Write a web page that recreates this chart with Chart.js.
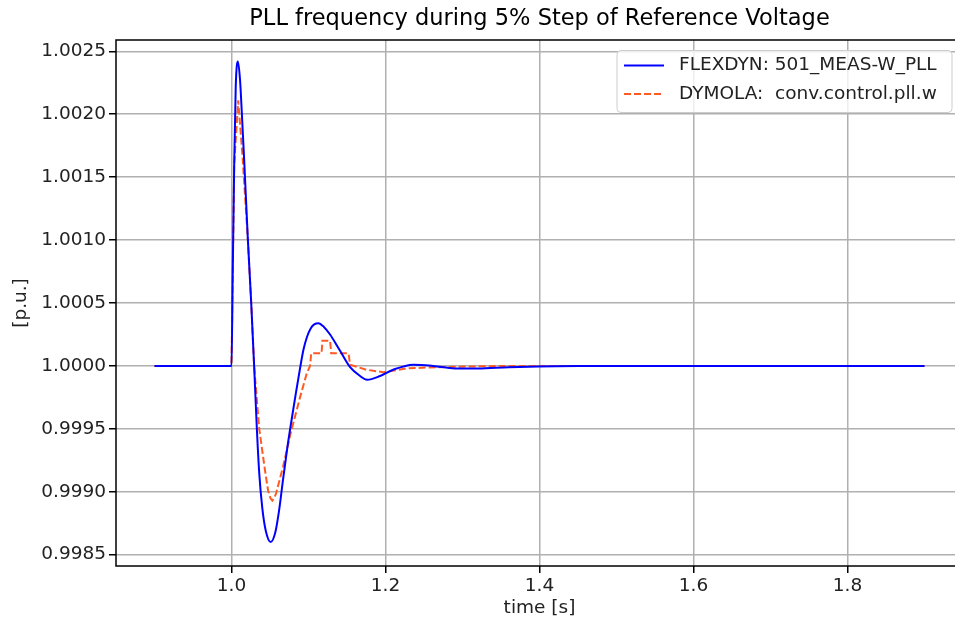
<!DOCTYPE html>
<html>
<head>
<meta charset="utf-8">
<script src="https://cdn.jsdelivr.net/npm/chart.js@4.4.0/dist/chart.umd.min.js"></script>
<style>
  html, body { margin: 0; padding: 0; background: #fff; overflow: hidden; }
  #wrap { width: 955px; height: 625px; overflow: hidden; }
</style>
</head>
<body>
<div id="wrap"><canvas id="pllChart" width="980" height="625"></canvas></div>
<script>
// FLEXDYN: 501_MEAS-W_PLL
var flexTime = [0.9, 1.0, 1.0015, 1.0035, 1.0055, 1.0083, 1.011, 1.0135, 1.0165, 1.0213,
  1.0256, 1.0294, 1.0327, 1.036, 1.04, 1.0445, 1.0509, 1.057, 1.062, 1.067,
  1.0725, 1.078, 1.0835, 1.089, 1.0935, 1.098, 1.103, 1.1075, 1.1128, 1.12,
  1.128, 1.141, 1.154, 1.167, 1.176, 1.193, 1.21, 1.236, 1.262, 1.29,
  1.32, 1.36, 1.45, 1.9];
var flexValue = [1.0, 1.0, 1.0007, 1.0016, 1.00222, 1.00242, 1.00228, 1.002, 1.00163, 1.001,
  1.0005, 1.0, 0.99953, 0.99915, 0.99887, 0.99869, 0.9986, 0.99868, 0.99886, 0.9991,
  0.99935, 0.99957, 0.99978, 0.99998, 1.00013, 1.00023, 1.0003, 1.00033, 1.00034, 1.00031,
  1.00025, 1.00012, 0.99999, 0.99992, 0.99989, 0.99992, 0.99997, 1.00001, 1.0, 0.99998,
  0.99998, 0.99999, 1.0, 1.0];

// DYMOLA: conv.control.pll.w
var dymTime = [0.9, 1.0, 1.0035, 1.0087, 1.0145, 1.0213, 1.0256, 1.0294, 1.036, 1.0435,
  1.0475, 1.0505, 1.053, 1.0556, 1.058, 1.067, 1.077, 1.089, 1.0977, 1.102,
  1.1035, 1.117, 1.118, 1.128, 1.1295, 1.152, 1.154, 1.175, 1.197, 1.227,
  1.266, 1.35, 1.9];
var dymValue = [1.0, 1.0, 1.0016, 1.00211, 1.00165, 1.001, 1.0005, 1.0, 0.9995, 0.99917,
  0.99901, 0.99895, 0.99893, 0.99895, 0.99899, 0.9992, 0.99947, 0.99975, 0.99994, 1.0,
  1.0001, 1.0001, 1.0002, 1.0002, 1.0001, 1.0001, 1.00001, 0.99997, 0.99995, 0.99998,
  0.99999, 1.0, 1.0];

var xTicks = [1.0, 1.2, 1.4, 1.6, 1.8];
var yTicks = [0.9985, 0.999, 0.9995, 1.0, 1.0005, 1.001, 1.0015, 1.002, 1.0025];

function toPoints(ts, vs) {
  return ts.map(function (t, i) { return { x: t, y: vs[i] }; });
}

var FONT = "'DejaVu Sans', sans-serif";

// matplotlib-like frame around the axes
var frame = {
  id: "frame",
  afterDatasetsDraw: function (chart) {
    var a = chart.chartArea, ctx = chart.ctx;
    ctx.save();
    ctx.strokeStyle = "#000";
    ctx.lineWidth = 1.5;
    ctx.strokeRect(a.left, a.top, a.right - a.left, a.bottom - a.top);
    ctx.restore();
  }
};

// legend box in the upper right corner
var legendBox = {
  id: "legendBox",
  afterDraw: function (chart) {
    var ctx = chart.ctx, a = chart.chartArea;
    var w = 335, h = 62, r = 4;
    var x0 = a.right - 11 - w, y0 = a.top + 10.5;
    ctx.save();
    ctx.beginPath();
    ctx.moveTo(x0 + r, y0);
    ctx.arcTo(x0 + w, y0, x0 + w, y0 + h, r);
    ctx.arcTo(x0 + w, y0 + h, x0, y0 + h, r);
    ctx.arcTo(x0, y0 + h, x0, y0, r);
    ctx.arcTo(x0, y0, x0 + w, y0, r);
    ctx.closePath();
    ctx.fillStyle = "rgba(255,255,255,0.8)";
    ctx.fill();
    ctx.strokeStyle = "#cccccc";
    ctx.lineWidth = 1;
    ctx.stroke();
    chart.data.datasets.forEach(function (ds, i) {
      var y = y0 + 15 + i * 28.5;
      ctx.beginPath();
      ctx.setLineDash(ds.borderDash || []);
      ctx.strokeStyle = ds.borderColor;
      ctx.lineWidth = ds.borderWidth;
      ctx.moveTo(x0 + 7, y);
      ctx.lineTo(x0 + 47, y);
      ctx.stroke();
      ctx.setLineDash([]);
      ctx.fillStyle = "#222";
      ctx.font = "18.5px " + FONT;
      ctx.textBaseline = "middle";
      ctx.fillText(ds.label, x0 + 62, y);
    });
    ctx.restore();
  }
};

var ctx = document.getElementById("pllChart").getContext("2d");
var pllChart = new Chart(ctx, {
  type: "line",
  data: {
    datasets: [{
      label: "FLEXDYN: 501_MEAS-W_PLL",
      data: toPoints(flexTime, flexValue),
      borderColor: "#0000ff",
      borderWidth: 2,
      pointRadius: 0,
      fill: false,
      cubicInterpolationMode: "monotone"
    }, {
      label: "DYMOLA:  conv.control.pll.w",
      data: toPoints(dymTime, dymValue),
      borderColor: "#ff5a22",
      borderWidth: 2,
      borderDash: [7, 3],
      pointRadius: 0,
      fill: false,
      tension: 0
    }]
  },
  options: {
    responsive: false,
    animation: false,
    devicePixelRatio: 1,
    layout: { padding: { left: 0, right: 17, top: 0, bottom: 0 } },
    plugins: {
      legend: { display: false },
      tooltip: { enabled: false },
      title: {
        display: true,
        fullSize: false,
        text: "PLL frequency during 5% Step of Reference Voltage",
        color: "#000",
        font: { family: FONT, size: 22.5, weight: "normal" },
        padding: { top: 6, bottom: 7 }
      }
    },
    scales: {
      x: {
        type: "linear",
        min: 0.85,
        max: 1.95,
        afterBuildTicks: function (scale) {
          scale.ticks = xTicks.map(function (v) { return { value: v }; });
        },
        afterFit: function (scale) { scale.height = 59; },
        ticks: {
          color: "#222",
          padding: 2,
          maxRotation: 0,
          font: { family: FONT, size: 18.5 },
          callback: function (v) { return v.toFixed(1); }
        },
        grid: { color: "#b0b0b0", lineWidth: 1.5, tickColor: "#000", tickLength: 7, tickWidth: 1.5 },
        border: { display: false },
        title: {
          display: true,
          text: "time [s]",
          color: "#222",
          font: { family: FONT, size: 18.5 },
          padding: { top: 0, bottom: 6 }
        }
      },
      y: {
        min: 0.99841,
        max: 1.00259,
        afterBuildTicks: function (scale) {
          scale.ticks = yTicks.map(function (v) { return { value: v }; });
        },
        afterFit: function (scale) { scale.width = 116; },
        ticks: {
          color: "#222",
          padding: 3,
          font: { family: FONT, size: 18.5 },
          callback: function (v) { return v.toFixed(4); }
        },
        grid: { color: "#b0b0b0", lineWidth: 1.5, tickColor: "#000", tickLength: 7, tickWidth: 1.5 },
        border: { display: false },
        title: {
          display: true,
          text: "[p.u.]",
          color: "#222",
          font: { family: FONT, size: 18.5 },
          padding: { top: 10, bottom: 0 }
        }
      }
    }
  },
  plugins: [frame, legendBox]
});
</script>
</body>
</html>
